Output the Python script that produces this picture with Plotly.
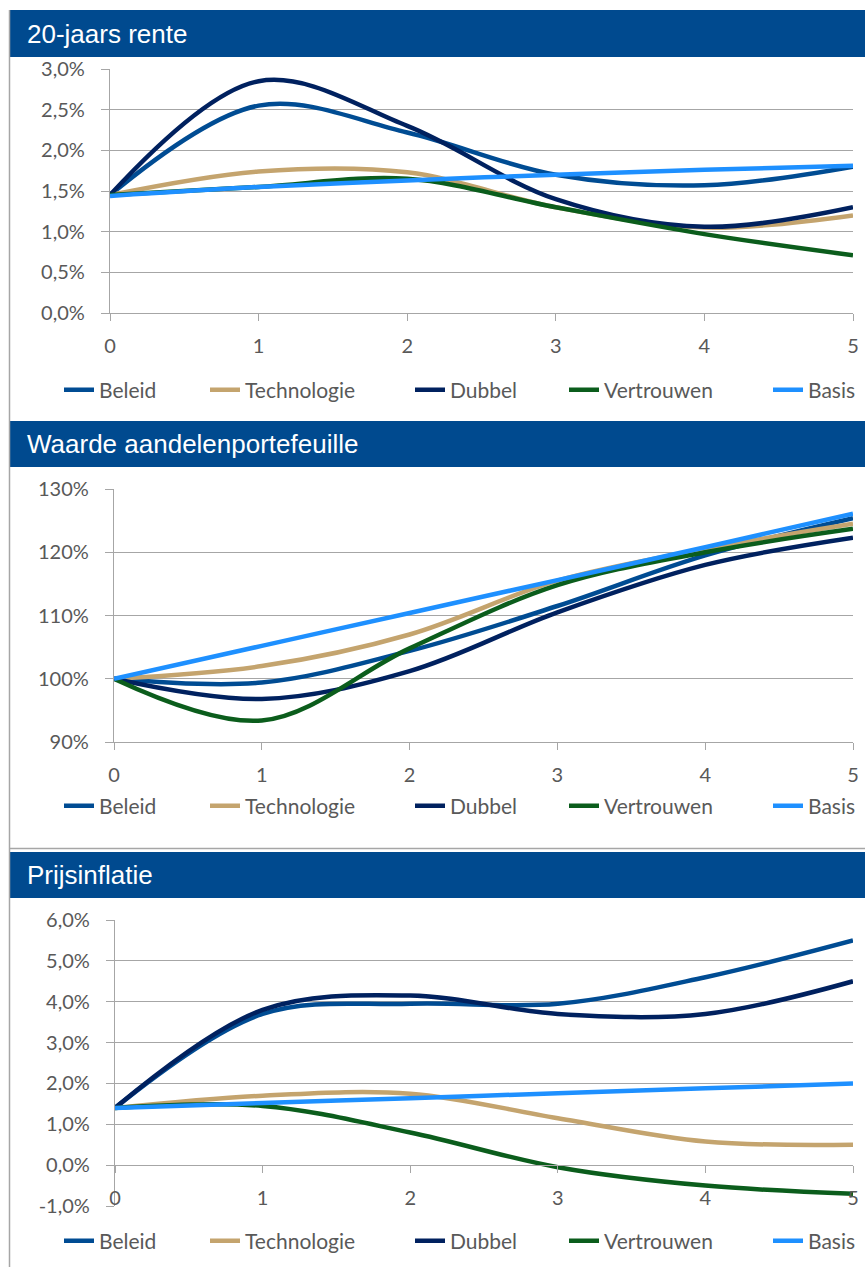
"""Scenario charts: rente, aandelen en inflatie, three stacked panels."""

import plotly.graph_objects as go

W, H = 865, 1267

YEARS = [0, 1, 2, 3, 4, 5]
SCENARIOS = ["Beleid", "Technologie", "Dubbel", "Vertrouwen", "Basis"]

# 20-jaars rente (%)
rente_beleid = [1.45, 2.55, 2.22, 1.70, 1.57, 1.80]
rente_technologie = [1.45, 1.74, 1.73, 1.30, 1.05, 1.20]
rente_dubbel = [1.45, 2.85, 2.30, 1.40, 1.06, 1.30]
rente_vertrouwen = [1.45, 1.55, 1.65, 1.30, 0.97, 0.71]
rente_basis = [1.44, 1.55, 1.63, 1.70, 1.76, 1.81]
rente_ticks = [0, 0.5, 1, 1.5, 2, 2.5, 3]
rente_ticktext = ["0,0%", "0,5%", "1,0%", "1,5%", "2,0%", "2,5%", "3,0%"]

# Waarde aandelenportefeuille (%)
aandelen_beleid = [100, 99.4, 104.4, 111.5, 119.5, 125.4]
aandelen_technologie = [100, 102.0, 107.0, 115.5, 120.5, 124.5]
aandelen_dubbel = [100, 96.8, 101.2, 110.5, 118.0, 122.3]
aandelen_vertrouwen = [100, 93.4, 104.8, 114.8, 120.0, 123.7]
aandelen_basis = [100, 105.2, 110.4, 115.6, 120.8, 126.1]
aandelen_ticks = [90, 100, 110, 120, 130]
aandelen_ticktext = ["90%", "100%", "110%", "120%", "130%"]

# Prijsinflatie (%)
inflatie_beleid = [1.40, 3.70, 3.95, 3.95, 4.60, 5.50]
inflatie_technologie = [1.40, 1.70, 1.75, 1.15, 0.58, 0.50]
inflatie_dubbel = [1.40, 3.80, 4.15, 3.70, 3.70, 4.50]
inflatie_vertrouwen = [1.40, 1.45, 0.80, -0.05, -0.50, -0.70]
inflatie_basis = [1.40, 1.52, 1.64, 1.76, 1.88, 2.00]
inflatie_ticks = [-1, 0, 1, 2, 3, 4, 5, 6]
inflatie_ticktext = ["-1,0%", "0,0%", "1,0%", "2,0%", "3,0%", "4,0%", "5,0%", "6,0%"]

COLORS = {
    "Beleid": "#004C93",
    "Technologie": "#C4A46E",
    "Dubbel": "#00215F",
    "Vertrouwen": "#0B5D1C",
    "Basis": "#1E90FF",
}

HEADER_BLUE = "#004A8F"
GRID = "#A6A6A6"
TEXT = "#595959"
FONT = "Lato"

# where each legend label starts (px), same in every panel
LEGEND_TEXT_X = [99, 245, 450, 604, 808]


def px_x(x):
    return x / W


def px_y(y):
    return 1 - y / H


panels = [
    {
        "title": "20-jaars rente",
        "series": [rente_beleid, rente_technologie, rente_dubbel, rente_vertrouwen, rente_basis],
        "ticks": (rente_ticks, rente_ticktext),
        "header": (10, 57),
        "plot_x": (110, 853),
        "plot_y": (313, 69),
        "legend_y": 390,
        "xaxis_at": None,
    },
    {
        "title": "Waarde aandelenportefeuille",
        "series": [aandelen_beleid, aandelen_technologie, aandelen_dubbel, aandelen_vertrouwen, aandelen_basis],
        "ticks": (aandelen_ticks, aandelen_ticktext),
        "header": (421, 467),
        "plot_x": (114, 853),
        "plot_y": (742, 489),
        "legend_y": 806,
        "xaxis_at": None,
    },
    {
        "title": "Prijsinflatie",
        "series": [inflatie_beleid, inflatie_technologie, inflatie_dubbel, inflatie_vertrouwen, inflatie_basis],
        "ticks": (inflatie_ticks, inflatie_ticktext),
        "header": (852, 898),
        "plot_x": (115, 853),
        "plot_y": (1206, 920),
        "legend_y": 1241,
        "xaxis_at": 1165,
    },
]

fig = go.Figure()
shapes = []
annotations = []
layout = {}
legend_count = 0

for i, p in enumerate(panels, start=1):
    suffix = "" if i == 1 else str(i)

    for j, (name, values) in enumerate(zip(SCENARIOS, p["series"])):
        legend_count += 1
        legend_name = "legend" if legend_count == 1 else f"legend{legend_count}"
        fig.add_trace(
            go.Scatter(
                x=YEARS,
                y=values,
                mode="lines",
                name=name,
                line={"color": COLORS[name], "width": 4.5, "shape": "spline", "smoothing": 1},
                xaxis="x" + suffix,
                yaxis="y" + suffix,
                legend=legend_name,
                hoverinfo="skip",
            )
        )
        layout[legend_name] = {
            "orientation": "h",
            "xref": "container",
            "yref": "container",
            "x": px_x(LEGEND_TEXT_X[j] - 40),
            "xanchor": "left",
            "y": px_y(p["legend_y"]),
            "yanchor": "middle",
            "font": {"family": FONT, "size": 21, "color": TEXT},
            "bgcolor": "rgba(0,0,0,0)",
            "itemclick": False,
            "itemdoubleclick": False,
        }

    x0, x1 = p["plot_x"]
    ybot, ytop = p["plot_y"]
    tickvals, ticktext = p["ticks"]
    axis_common = {
        "showline": True,
        "linecolor": GRID,
        "linewidth": 1.3,
        "ticks": "outside",
        "tickcolor": GRID,
        "tickwidth": 1.3,
        "tickfont": {"family": FONT, "size": 20, "color": TEXT},
        "zeroline": False,
        "fixedrange": True,
        "automargin": False,
    }
    xaxis = {
        **axis_common,
        "domain": [px_x(x0), px_x(x1)],
        "range": [0, 5],
        "dtick": 1,
        "ticklen": 7,
        "showgrid": False,
        "ticklabelstandoff": 8,
        "anchor": "y" + suffix,
    }
    if p["xaxis_at"] is not None:
        xaxis["anchor"] = "free"
        xaxis["position"] = px_y(p["xaxis_at"])
    yaxis = {
        **axis_common,
        "domain": [px_y(ybot), px_y(ytop)],
        "range": [tickvals[0], tickvals[-1]],
        "tickvals": tickvals,
        "ticktext": ticktext,
        "ticklen": 8,
        "showgrid": True,
        "gridcolor": GRID,
        "gridwidth": 1.3,
        "ticklabelstandoff": 12,
        "anchor": "x" + suffix,
    }
    layout["xaxis" + suffix] = xaxis
    layout["yaxis" + suffix] = yaxis

    h0, h1 = p["header"]
    shapes.append(
        {
            "type": "rect",
            "xref": "paper",
            "yref": "paper",
            "x0": px_x(9),
            "x1": 1,
            "y0": px_y(h1),
            "y1": px_y(h0),
            "fillcolor": HEADER_BLUE,
            "line": {"width": 0},
            "layer": "below",
        }
    )
    annotations.append(
        {
            "text": p["title"],
            "xref": "paper",
            "yref": "paper",
            "x": px_x(25),
            "y": px_y((h0 + h1) / 2),
            "xanchor": "left",
            "yanchor": "middle",
            "showarrow": False,
            "font": {"family": "Liberation Sans, Arial", "size": 26, "color": "white"},
        }
    )

# panel frame lines
shapes.append(
    {
        "type": "line",
        "xref": "paper",
        "yref": "paper",
        "x0": px_x(9.5),
        "x1": px_x(9.5),
        "y0": 0,
        "y1": px_y(10),
        "line": {"color": GRID, "width": 1.5},
    }
)
shapes.append(
    {
        "type": "line",
        "xref": "paper",
        "yref": "paper",
        "x0": px_x(9.5),
        "x1": 1,
        "y0": px_y(848.5),
        "y1": px_y(848.5),
        "line": {"color": GRID, "width": 1.5},
    }
)

fig.update_layout(
    width=W,
    height=H,
    margin={"l": 0, "r": 0, "t": 0, "b": 0, "autoexpand": False},
    paper_bgcolor="white",
    plot_bgcolor="rgba(0,0,0,0)",
    shapes=shapes,
    annotations=annotations,
    showlegend=True,
    **layout,
)

fig.write_html(
    "out.html",
    config={"displayModeBar": False},
    post_script="document.body.style.margin='0';document.body.style.overflow='hidden';",
)
